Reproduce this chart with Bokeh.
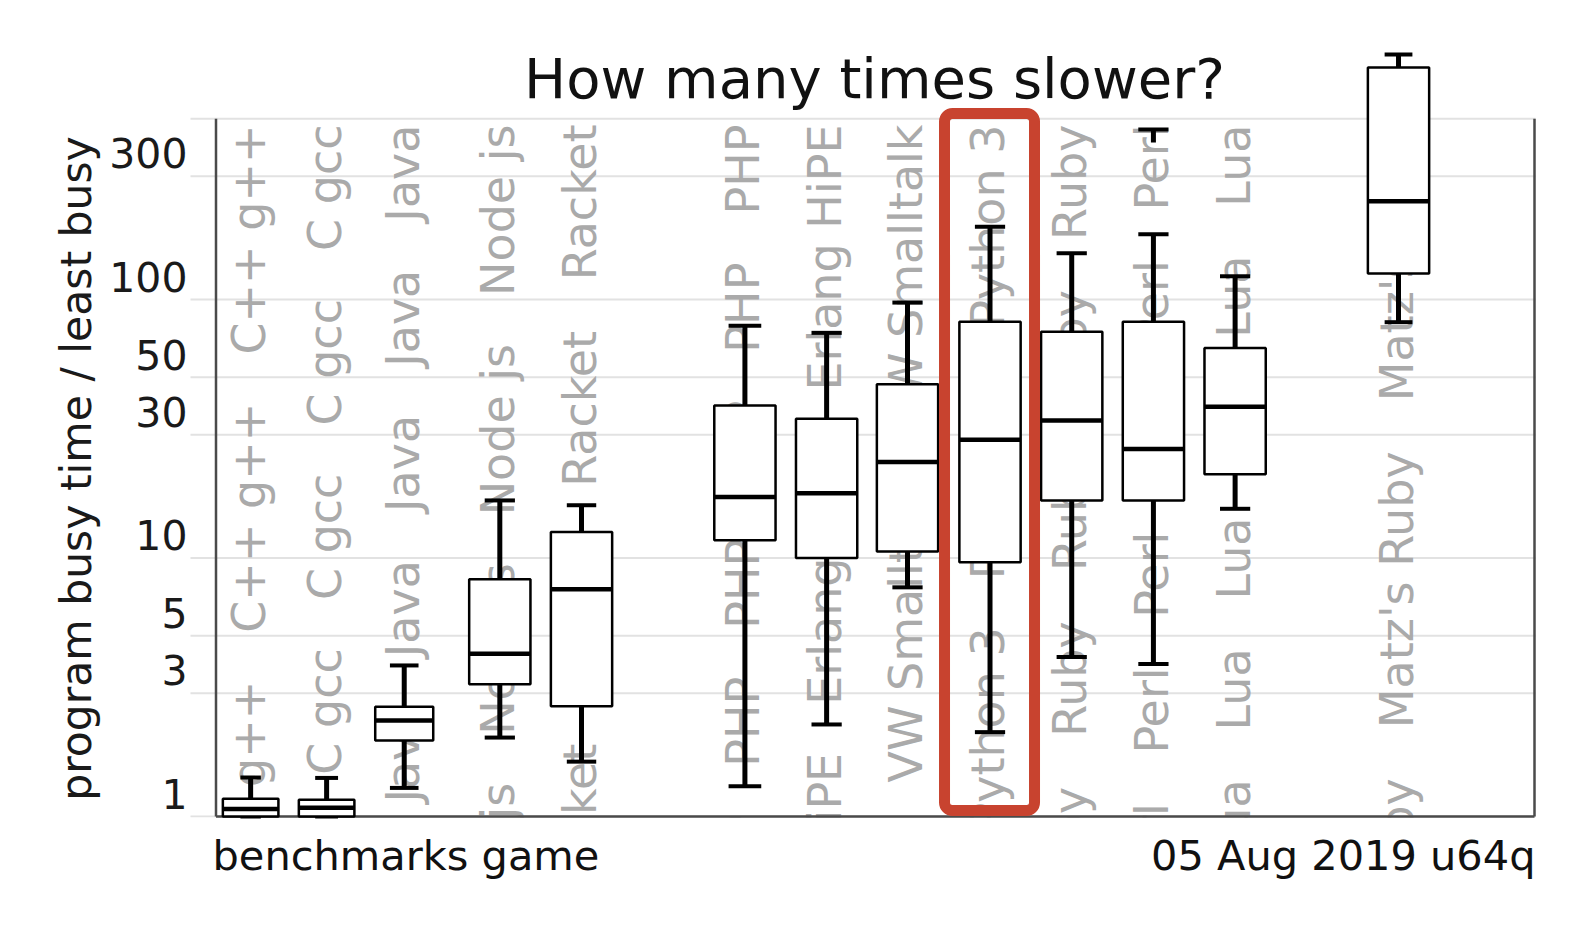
import math
from bokeh.plotting import figure
from bokeh.models import Range1d, BoxAnnotation
from bokeh.core.properties import value
from bokeh.embed import file_html
from bokeh.resources import INLINE

# ---------------- data ----------------
languages = ["C++ g++", "C gcc", "Java", "Node js", "Racket", "PHP", "Erlang HiPE",
             "VW Smalltalk", "Python 3", "Ruby", "Perl", "Lua", "Matz's Ruby"]
whisker_low = [1.00, 1.00, 1.29, 2.02, 1.63, 1.31, 2.27, 7.7, 2.12, 4.14, 3.89, 15.5, 81.7]
quartile_1 = [1.00, 1.00, 1.97, 3.25, 2.67, 11.7, 10.0, 10.6, 9.63, 16.7, 16.7, 21.1, 126]
median_val = [1.07, 1.08, 2.35, 4.26, 7.57, 17.2, 17.8, 23.5, 28.7, 34.0, 26.4, 38.5, 240]
quartile_3 = [1.17, 1.16, 2.66, 8.28, 12.6, 38.9, 34.6, 47.0, 82.0, 75.0, 82.0, 64.9, 789]
whisker_high = [1.415, 1.41, 3.84, 16.7, 16.0, 79.1, 74.3, 97.3, 191, 151, 179, 123, 887]
perl_extra = [405, 455]          # small extra whisker piece at the top of the Perl column
highlight = "Python 3"
grid_values = [1, 3, 5, 10, 30, 50, 100, 300, 500]
tick_values = [1, 3, 5, 10, 30, 50, 100, 300]
tick_labels = ["1", "3", "5", "10", "30", "50", "100", "300"]
title_text = "How many times slower?"
y_title = "program busy time / least busy"
footer_left = "benchmarks game"
footer_right = "05 Aug 2019 u64q"

# ---------------- layout ----------------
slot = [-0.05, 0.88, 1.83, 3.0, 4.0, 6.0, 7.0, 7.99, 9.0, 10.0, 11.0, 12.0, 14.0]
box_w = [0.68, 0.68, 0.71, 0.75, 0.75, 0.75, 0.75, 0.75, 0.75, 0.75, 0.75, 0.75, 0.75]
cap_w = [0.25, 0.28, 0.35, 0.37, 0.36, 0.40, 0.37, 0.37, 0.37, 0.37, 0.37, 0.37, 0.34]

W, H = 1575, 925
AX_LEFT, AX_RIGHT, AX_BOTTOM = 215, 1535, 816   # page pixels of the drawn axes box
PX_UNIT = 81.7
PX_DECADE = 258.5
XSTART = -0.48                                    # x value at AX_LEFT
BASE_SHIFT = 0.36                                 # em offset of the rendered text baseline


def dx(px):
    return XSTART + (px - AX_LEFT) / PX_UNIT


def dy(py):
    return 10 ** ((AX_BOTTOM - py) / PX_DECADE)


# DejaVu Sans advance widths (em) used to repeat the column names
ADV = {" ": 0.318, "+": 0.838, "C": 0.698, "g": 0.635, "c": 0.550, "J": 0.295,
       "a": 0.613, "v": 0.592, "N": 0.748, "o": 0.612, "d": 0.635, "e": 0.615,
       "j": 0.278, "s": 0.521, "R": 0.695, "k": 0.579, "t": 0.392, "P": 0.603,
       "H": 0.752, "E": 0.632, "r": 0.411, "l": 0.278, "n": 0.634, "i": 0.278,
       "V": 0.684, "W": 0.989, "S": 0.635, "m": 0.974, "y": 0.592, "3": 0.636,
       "h": 0.634, "u": 0.634, "b": 0.635, "L": 0.557, "M": 0.863, "z": 0.525,
       "'": 0.275}
COL_FS = 46
GAP = 48
TOP0 = 124


def adv(s):
    return sum(ADV.get(ch, 0.6) for ch in s) * COL_FS


p = figure(width=W, height=H, y_axis_type="log", output_backend="svg",
           toolbar_location=None,
           x_range=Range1d(dx(0), dx(W)), y_range=Range1d(dy(H), dy(0)),
           min_border=0)
p.outline_line_color = None
p.background_fill_color = "white"
p.border_fill_color = "white"
p.xaxis.visible = False
p.yaxis.visible = False
p.grid.visible = False

# grid lines (also extending left as tick marks)
p.segment(x0=[dx(190)] * len(grid_values), y0=grid_values,
          x1=[dx(AX_RIGHT)] * len(grid_values), y1=grid_values,
          line_color="#e2e2e2", line_width=2)

# repeated, vertical category names (the last one is cut by the axis)
cx, cy, ct = [], [], []
for s, name in zip(slot, languages):
    full = adv(name)
    top = TOP0
    while top < AX_BOTTOM:
        txt = name
        if top + full > AX_BOTTOM:
            for j in range(len(name) - 1, -1, -1):
                txt = name[j:]
                if top + adv(txt) >= AX_BOTTOM:
                    break
            txt = txt.lstrip()
        if txt:
            cx.append(s - 1.6 / PX_UNIT)
            cy.append(dy(top))
            ct.append(txt)
        top += full + GAP
p.text(x=cx, y=cy, text=ct, angle=math.pi / 2, text_align="right",
       text_baseline="alphabetic", text_font=value("DejaVu Sans"),
       text_font_size=f"{COL_FS}px", text_color="#aaaaaa")

# white mask below the axis line (the column names stop at the axis)
p.quad(left=[dx(0)], right=[dx(W)], bottom=[dy(H)], top=[dy(AX_BOTTOM + 1)],
       fill_color="white", line_color=None)

# axis box lines
ax_l = dx(AX_LEFT + 0.5)
ax_r = dx(AX_RIGHT - 1)
p.segment(x0=[ax_l, ax_r, ax_l], y0=[1, 1, 1], x1=[ax_l, ax_r, ax_r],
          y1=[grid_values[-1], grid_values[-1], 1], line_color="#4a4a4a", line_width=2.5)

# whiskers
p.segment(x0=slot, y0=quartile_3, x1=slot, y1=whisker_high, line_color="black", line_width=5)
p.segment(x0=slot, y0=whisker_low, x1=slot, y1=quartile_1, line_color="black", line_width=5)
p.segment(x0=[s - c / 2 for s, c in zip(slot, cap_w)], y0=whisker_high,
          x1=[s + c / 2 for s, c in zip(slot, cap_w)], y1=whisker_high,
          line_color="black", line_width=4)
p.segment(x0=[s - c / 2 for s, c in zip(slot, cap_w)], y0=whisker_low,
          x1=[s + c / 2 for s, c in zip(slot, cap_w)], y1=whisker_low,
          line_color="black", line_width=4)

# Perl extra top piece
ip = languages.index("Perl")
p.segment(x0=[slot[ip]], y0=[perl_extra[0]], x1=[slot[ip]], y1=[perl_extra[1]],
          line_color="black", line_width=5)
p.segment(x0=[slot[ip] - cap_w[ip] / 2], y0=[perl_extra[1]], x1=[slot[ip] + cap_w[ip] / 2],
          y1=[perl_extra[1]], line_color="black", line_width=4)

# boxes
p.vbar(x=slot, width=box_w, bottom=quartile_1, top=quartile_3, fill_color="white",
       line_color="black", line_width=2.5)
p.segment(x0=[s - w / 2 for s, w in zip(slot, box_w)], y0=median_val,
          x1=[s + w / 2 for s, w in zip(slot, box_w)], y1=median_val,
          line_color="black", line_width=4.5)

# highlight around Python 3
ih = languages.index(highlight)
p.add_layout(BoxAnnotation(left=slot[ih] - 45.5 / PX_UNIT, right=slot[ih] + 44.5 / PX_UNIT,
                           top=dy(113), bottom=dy(810), fill_color=None, fill_alpha=0,
                           line_color="#c8432f", line_alpha=1.0, line_width=11,
                           border_radius=8))

# tick labels (baseline a few pixels above each grid line)
lift = 10 ** ((8 + BASE_SHIFT * 41) / PX_DECADE)
p.text(x=[dx(187)] * len(tick_values), y=[t * lift for t in tick_values], text=tick_labels,
       text_align="right", text_baseline="alphabetic", text_font=value("DejaVu Sans"),
       text_font_size="41px", text_color="#1a1a1a")

# titles and footers
p.text(x=[dx(874)], y=[dy(98 - BASE_SHIFT * 56)], text=[title_text], text_align="center",
       text_baseline="alphabetic", text_font=value("DejaVu Sans"),
       text_font_size="56px", text_color="#111111")
p.text(x=[dx(76)], y=[dy(468)], text=[y_title], angle=math.pi / 2, text_align="center",
       text_baseline="middle", text_font=value("DejaVu Sans"), text_font_size="42.5px",
       text_color="#1a1a1a")
p.text(x=[dx(212), dx(1535)], y=[dy(870 - BASE_SHIFT * 41.5)] * 2,
       text=[footer_left, footer_right],
       text_align=["left", "right"], text_baseline="alphabetic",
       text_font=value("DejaVu Sans"), text_font_size="41.5px", text_color="#111111")

open("out.html", "w").write(file_html(p, INLINE))
